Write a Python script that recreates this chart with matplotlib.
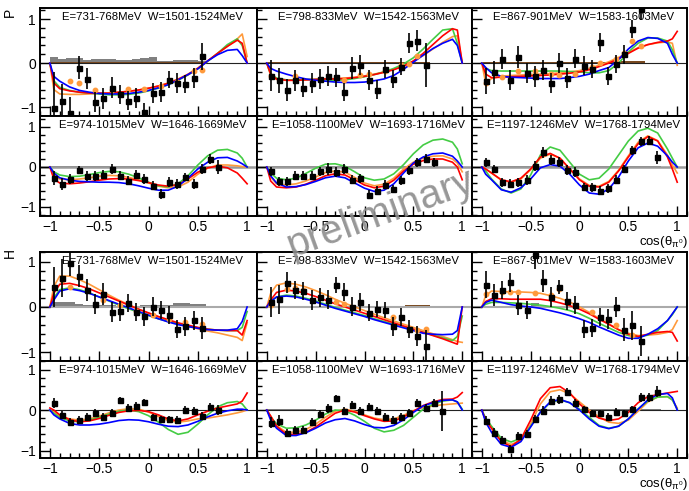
import numpy as np
import matplotlib
matplotlib.use("Agg")
import matplotlib.pyplot as plt
from matplotlib.ticker import MultipleLocator, FuncFormatter

plt.rcParams['font.family'] = ['Liberation Sans', 'DejaVu Sans']

# ---------------------------------------------------------------- binning
# 24 bins in cos(theta) of width 1/12; data occupy the first N bins
BIN_CENTERS = -1 + (np.arange(24) + 0.5) / 12.0
BIN_WIDTH = 1.0 / 12.0

# abscissae at which the model curves are tabulated
CURVE_COS = [-1, -0.96, -0.9, -0.8, -0.7, -0.6, -0.5, -0.4, -0.3, -0.2, -0.1, 0,
             0.1, 0.2, 0.3, 0.4, 0.5, 0.6, 0.7, 0.8, 0.9, 0.95, 1]

# ---------------------------------------------------------------- P, bin 1
P1_label = "E=731-768MeV  W=1501-1524MeV"
P1_y = [-1.01, -0.86, -1.13, -0.11, -0.35, -0.88, -0.80, -0.56, -0.71, -0.85,
        -0.79, -1.11, -0.68, -0.66, -0.38, -0.45, -0.47, -0.34, 0.15]
P1_err = [0.80, 0.38, 0.35, 0.26, 0.24, 0.23, 0.24, 0.24, 0.22, 0.21,
          0.22, 0.20, 0.22, 0.22, 0.19, 0.22, 0.20, 0.22, 0.30]
P1_blue = [0, -0.30, -0.41, -0.54, -0.62, -0.66, -0.69, -0.70, -0.70, -0.69, -0.66, -0.62,
           -0.56, -0.49, -0.38, -0.26, -0.13, 0.05, 0.19, 0.29, 0.31, 0.17, 0]
P1_red = [0, -0.45, -0.58, -0.63, -0.66, -0.68, -0.68, -0.68, -0.66, -0.64, -0.61, -0.57,
          -0.52, -0.46, -0.37, -0.26, -0.12, 0.05, 0.22, 0.38, 0.52, 0.45, 0]
P1_green = [0, -0.40, -0.55, -0.62, -0.66, -0.68, -0.70, -0.72, -0.72, -0.71, -0.68, -0.63,
            -0.57, -0.49, -0.39, -0.27, -0.13, 0.04, 0.22, 0.42, 0.55, 0.40, 0]
P1_orange = [0, -0.60, -0.70, -0.71, -0.71, -0.70, -0.69, -0.68, -0.66, -0.64, -0.61, -0.57,
             -0.52, -0.45, -0.36, -0.25, -0.11, 0.05, 0.22, 0.38, 0.55, 0.66, 0.15]
P1_ref_bins = [2, 3, 5, 7, 9, 11, 13, 15, 17, 18]
P1_ref_y = [-0.40, -0.45, -0.62, -0.60, -0.59, -0.58, -0.51, -0.42, -0.17, -0.15]
P1_sys = [0.13, 0.10, 0.12, 0.12, 0.07, 0.10, 0.09, 0.09, 0.08, 0.08,
          0.10, 0.11, 0.14, 0.05, 0.04, 0.07, 0.07, 0.07, 0.05]
P1_sys2 = [0.02] * 19

# ---------------------------------------------------------------- P, bin 2
P2_label = "E=798-833MeV  W=1542-1563MeV"
P2_y = [-0.29, -0.39, -0.60, -0.39, -0.56, -0.45, -0.36, -0.29, -0.32, -0.66,
        -0.11, -0.04, -0.39, -0.60, -0.13, -0.36, -0.08, 0.45, 0.51, -0.04]
P2_err = [0.35, 0.28, 0.25, 0.24, 0.22, 0.22, 0.23, 0.22, 0.22, 0.21,
          0.25, 0.23, 0.23, 0.22, 0.21, 0.21, 0.19, 0.23, 0.24, 0.50]
P2_blue = [0, -0.12, -0.18, -0.25, -0.31, -0.36, -0.39, -0.41, -0.43, -0.44, -0.44, -0.43,
           -0.40, -0.36, -0.28, -0.14, 0.02, 0.18, 0.33, 0.45, 0.54, 0.40, 0]
P2_red = [0, -0.25, -0.36, -0.39, -0.39, -0.38, -0.37, -0.36, -0.36, -0.35, -0.33, -0.30,
          -0.26, -0.21, -0.15, -0.07, 0.05, 0.22, 0.42, 0.62, 0.78, 0.75, 0]
P2_green = [0, -0.25, -0.34, -0.38, -0.38, -0.37, -0.37, -0.38, -0.39, -0.38, -0.35, -0.31,
            -0.26, -0.20, -0.12, -0.02, 0.12, 0.32, 0.54, 0.75, 0.78, 0.45, 0]
P2_orange = [0, -0.28, -0.37, -0.39, -0.39, -0.38, -0.37, -0.36, -0.35, -0.34, -0.32, -0.29,
             -0.25, -0.20, -0.14, -0.07, 0.04, 0.17, 0.32, 0.47, 0.60, 0.62, 0.02]
P2_ref_bins = [0, 3, 9, 11, 12, 14, 16, 17, 18]
P2_ref_y = [-0.30, -0.29, -0.38, -0.26, -0.24, -0.19, -0.04, -0.02, 0.17]
P2_sys = [0.02] * 20
P2_sys2 = [0.02] * 16 + [0.03] * 4

# ---------------------------------------------------------------- P, bin 3
P3_label = "E=867-901MeV  W=1583-1603MeV"
P3_y = [-0.41, -0.21, 0.09, -0.38, 0.14, -0.23, -0.30, -0.15, -0.45, 0.00,
        -0.33, 0.10, -0.06, -0.13, 0.47, -0.29, -0.02, 0.20, 0.77, 1.22]
P3_err = [0.30, 0.26, 0.23, 0.23, 0.24, 0.23, 0.24, 0.23, 0.23, 0.23,
          0.23, 0.21, 0.21, 0.21, 0.21, 0.21, 0.20, 0.21, 0.21, 0.24]
P3_blue = [0, -0.10, -0.22, -0.30, -0.32, -0.33, -0.34, -0.35, -0.35, -0.35, -0.33, -0.30,
           -0.25, -0.17, -0.10, 0.08, 0.32, 0.50, 0.58, 0.56, 0.45, 0.20, 0]
P3_red = [0, -0.25, -0.33, -0.32, -0.31, -0.30, -0.29, -0.28, -0.27, -0.25, -0.23, -0.20,
          -0.15, -0.08, 0.00, 0.10, 0.22, 0.34, 0.42, 0.47, 0.50, 0.55, 0.72]
P3_green = [0, -0.12, -0.17, -0.18, -0.18, -0.18, -0.18, -0.18, -0.18, -0.18, -0.19, -0.20,
            -0.22, -0.22, -0.17, 0.00, 0.25, 0.45, 0.57, 0.57, 0.50, 0.30, 0]
P3_orange = [0, -0.45, -0.35, -0.30, -0.28, -0.27, -0.26, -0.25, -0.24, -0.22, -0.20, -0.17,
             -0.12, -0.05, 0.03, 0.13, 0.24, 0.35, 0.42, 0.46, 0.48, 0.45, -0.05]
P3_ref_bins = [0, 2, 4, 6, 8, 9, 11, 13, 14, 16, 17, 18, 19]
P3_ref_y = [-0.45, -0.32, -0.19, -0.18, -0.24, -0.26, -0.24, -0.08, 0.0, 0.09, 0.22, 0.51, 0.38]
P3_sys = [0.02] * 20
P3_sys2 = [0.02] * 17 + [0.05, 0.05, 0.05]

# ---------------------------------------------------------------- P, bin 4
P4_label = "E=974-1015MeV  W=1646-1669MeV"
P4_y = [-0.28, -0.42, -0.30, -0.08, -0.23, -0.22, -0.19, -0.05, -0.22, -0.34,
        -0.19, -0.30, -0.47, -0.68, -0.38, -0.42, -0.25, -0.42, -0.05, 0.20, 0.00]
P4_err = [0.18, 0.15, 0.12, 0.10, 0.12, 0.12, 0.12, 0.12, 0.11, 0.12,
          0.12, 0.12, 0.11, 0.12, 0.12, 0.12, 0.11, 0.12, 0.12, 0.12, 0.18]
P4_blue = [0, -0.15, -0.27, -0.33, -0.36, -0.37, -0.38, -0.38, -0.39, -0.42, -0.47, -0.53,
           -0.58, -0.58, -0.48, -0.28, -0.05, 0.12, 0.23, 0.24, 0.15, 0.08, 0]
P4_red = [0, -0.30, -0.40, -0.42, -0.40, -0.37, -0.33, -0.30, -0.29, -0.30, -0.34, -0.39,
          -0.45, -0.48, -0.44, -0.30, -0.13, -0.02, 0.02, -0.02, -0.15, -0.28, -0.42]
P4_green = [0, -0.12, -0.20, -0.24, -0.23, -0.19, -0.14, -0.11, -0.12, -0.18, -0.27, -0.38,
            -0.47, -0.50, -0.42, -0.22, 0.05, 0.28, 0.42, 0.44, 0.35, 0.22, 0]
P4_orange = [0, -0.20, -0.30, -0.32, -0.30, -0.27, -0.23, -0.21, -0.22, -0.26, -0.32, -0.40,
             -0.48, -0.52, -0.50, -0.38, -0.18, -0.03, 0.05, 0.05, 0.03, 0.01, 0]
P4_sys = [0.03] * 21
P4_sys2 = [0.0] * 21

# ---------------------------------------------------------------- P, bin 5
P5_label = "E=1058-1100MeV  W=1693-1716MeV"
P5_y = [-0.11, -0.36, -0.36, -0.22, -0.22, -0.22, -0.11, -0.05, -0.13, -0.05,
        -0.32, -0.28, -0.69, -0.59, -0.44, -0.55, -0.33, -0.08, 0.12, 0.21, 0.12]
P5_err = [0.12, 0.12, 0.12, 0.11, 0.11, 0.11, 0.11, 0.14, 0.12, 0.12,
          0.11, 0.11, 0.12, 0.11, 0.11, 0.11, 0.11, 0.11, 0.11, 0.11, 0.11]
P5_blue = [0, -0.22, -0.40, -0.50, -0.49, -0.44, -0.36, -0.27, -0.23, -0.27, -0.40, -0.53,
           -0.61, -0.58, -0.42, -0.15, 0.10, 0.25, 0.33, 0.35, 0.27, 0.15, 0]
P5_red = [0, -0.35, -0.50, -0.52, -0.50, -0.43, -0.33, -0.22, -0.17, -0.20, -0.32, -0.45,
          -0.52, -0.48, -0.33, -0.10, 0.07, 0.16, 0.20, 0.20, 0.12, 0.00, -0.32]
P5_green = [0, -0.15, -0.28, -0.32, -0.28, -0.16, -0.03, 0.07, 0.08, 0.02, -0.12, -0.27,
            -0.33, -0.30, -0.17, 0.06, 0.33, 0.55, 0.67, 0.70, 0.62, 0.45, 0.08]
P5_orange = [0, -0.25, -0.42, -0.45, -0.42, -0.35, -0.25, -0.14, -0.10, -0.13, -0.26, -0.40,
             -0.47, -0.43, -0.28, -0.05, 0.12, 0.22, 0.27, 0.28, 0.20, 0.10, -0.12]
P5_sys = [0.02] * 21
P5_sys2 = [0.0] * 21

# ---------------------------------------------------------------- P, bin 6
P6_label = "E=1197-1246MeV  W=1768-1794MeV"
P6_y = [0.12, -0.05, -0.38, -0.42, -0.38, -0.33, 0.03, 0.37, 0.18, 0.12, -0.08,
        -0.13, -0.50, -0.51, -0.59, -0.53, -0.32, -0.05, 0.42, 0.64, 0.66, 0.24]
P6_err = [0.11, 0.11, 0.11, 0.11, 0.11, 0.13, 0.12, 0.14, 0.12, 0.12, 0.12,
          0.12, 0.11, 0.11, 0.11, 0.11, 0.11, 0.11, 0.11, 0.11, 0.11, 0.16]
P6_blue = [0, -0.18, -0.32, -0.57, -0.63, -0.52, -0.30, -0.02, 0.06, 0.02, -0.18, -0.45,
           -0.65, -0.68, -0.55, -0.25, 0.15, 0.48, 0.60, 0.52, 0.28, 0.12, 0]
P6_red = [0, -0.05, -0.15, -0.32, -0.37, -0.28, -0.05, 0.25, 0.34, 0.22, -0.05, -0.32,
          -0.48, -0.50, -0.38, -0.10, 0.25, 0.58, 0.76, 0.65, 0.25, -0.05, -0.38]
P6_green = [0, -0.10, -0.30, -0.55, -0.65, -0.55, -0.20, 0.30, 0.50, 0.42, 0.12, -0.18,
            -0.32, -0.28, -0.05, 0.30, 0.65, 0.90, 0.97, 0.85, 0.45, 0.22, 0]
P6_orange = [0, -0.05, -0.15, -0.33, -0.38, -0.30, -0.07, 0.22, 0.32, 0.22, -0.04, -0.30,
             -0.46, -0.48, -0.36, -0.08, 0.28, 0.62, 0.78, 0.66, 0.30, 0.05, -0.15]
P6_sys = [0.03] * 22
P6_sys2 = [0.0] * 22

# ---------------------------------------------------------------- H, bin 1
H1_label = P1_label
H1_y = [0.44, 0.64, 0.96, 0.68, 0.38, 0.07, 0.29, -0.11, -0.09, 0.09,
        -0.11, -0.21, 0.01, -0.06, -0.17, -0.49, -0.43, -0.29, -0.46]
H1_err = [0.44, 0.42, 0.28, 0.24, 0.24, 0.22, 0.24, 0.22, 0.22, 0.20,
          0.20, 0.21, 0.20, 0.20, 0.20, 0.20, 0.21, 0.21, 0.24]
H1_blue = [0, 0.15, 0.35, 0.40, 0.36, 0.30, 0.22, 0.14, 0.06, -0.02, -0.10, -0.18,
           -0.26, -0.33, -0.39, -0.43, -0.47, -0.50, -0.51, -0.51, -0.48, -0.32, 0.0]
H1_red = [0, 0.30, 0.50, 0.52, 0.47, 0.40, 0.31, 0.22, 0.13, 0.04, -0.05, -0.13,
          -0.21, -0.28, -0.35, -0.40, -0.45, -0.49, -0.51, -0.52, -0.52, -0.62, -0.30]
H1_green = [0, 0.20, 0.38, 0.42, 0.38, 0.31, 0.22, 0.13, 0.04, -0.04, -0.12, -0.19,
            -0.26, -0.32, -0.37, -0.42, -0.46, -0.49, -0.51, -0.52, -0.52, -0.45, -0.10]
H1_orange = [0, 0.45, 0.68, 0.68, 0.60, 0.50, 0.38, 0.26, 0.15, 0.05, -0.05, -0.14,
             -0.22, -0.30, -0.37, -0.43, -0.48, -0.53, -0.57, -0.62, -0.67, -0.74, -0.35]
H1_ref_bins = [1, 2, 6, 8, 10, 12, 14, 16, 18]
H1_ref_y = [0.60, 0.44, 0.15, 0.05, -0.08, -0.18, -0.27, -0.33, -0.37]
H1_sys = [0.10, 0.10, 0.11, 0.06, 0.05, 0.05, 0.05, 0.05, 0.03, 0.02,
          0.03, 0.05, 0.04, 0.05, 0.05, 0.08, 0.08, 0.06, 0.06]
H1_sys2 = [0.03] * 19

# ---------------------------------------------------------------- H, bin 2
H2_label = P2_label
H2_y = [0.11, 0.17, 0.53, 0.37, 0.35, 0.15, 0.21, 0.16, 0.48, 0.33,
        0.01, 0.11, -0.13, -0.05, -0.07, -0.43, -0.22, -0.48, -0.65, -0.85]
H2_err = [0.33, 0.32, 0.23, 0.20, 0.20, 0.22, 0.21, 0.21, 0.18, 0.19,
          0.20, 0.19, 0.19, 0.18, 0.18, 0.20, 0.20, 0.20, 0.22, 0.35]
H2_blue = [0, 0.12, 0.22, 0.24, 0.22, 0.17, 0.11, 0.04, -0.03, -0.09, -0.15, -0.21,
           -0.28, -0.34, -0.40, -0.46, -0.52, -0.58, -0.60, -0.61, -0.60, -0.52, 0.0]
H2_red = [0, 0.15, 0.32, 0.37, 0.35, 0.30, 0.23, 0.15, 0.07, 0.0, -0.07, -0.14,
          -0.21, -0.28, -0.35, -0.42, -0.49, -0.56, -0.63, -0.70, -0.78, -0.82, 0.0]
H2_green = [0, 0.12, 0.22, 0.26, 0.24, 0.19, 0.13, 0.06, -0.01, -0.07, -0.13, -0.19,
            -0.26, -0.32, -0.38, -0.44, -0.50, -0.56, -0.62, -0.68, -0.74, -0.65, -0.20]
H2_orange = [0, 0.30, 0.48, 0.53, 0.50, 0.44, 0.36, 0.27, 0.17, 0.08, 0.0, -0.08,
             -0.16, -0.24, -0.31, -0.38, -0.45, -0.52, -0.59, -0.65, -0.72, -0.76, -0.78]
H2_ref_bins = [0, 2, 3, 4, 8, 9, 15, 18, 19]
H2_ref_y = [0.05, 0.40, 0.42, 0.38, 0.12, 0.07, -0.23, -0.50, -0.48]
H2_sys = [0.0] * 20
H2_sys2 = [0.02] * 17 + [0.04, 0.04, 0.04]

# ---------------------------------------------------------------- H, bin 3
H3_label = P3_label
H3_y = [0.49, 0.27, 0.38, 0.54, 0.04, -0.06, 1.14, 0.57, 0.22, 0.44,
        0.13, 0.04, -0.48, -0.46, -0.22, -0.26, -0.01, -0.50, -0.40, -0.76]
H3_err = [0.30, 0.24, 0.20, 0.20, 0.22, 0.20, 0.30, 0.24, 0.22, 0.15,
          0.20, 0.20, 0.20, 0.20, 0.20, 0.22, 0.22, 0.25, 0.32, 0.33]
H3_blue = [0, 0.10, 0.15, 0.10, 0.05, 0.02, 0.0, -0.03, -0.08, -0.13, -0.19, -0.26,
           -0.34, -0.44, -0.53, -0.62, -0.69, -0.69, -0.60, -0.48, -0.30, -0.15, 0]
H3_red = [0, 0.12, 0.18, 0.18, 0.17, 0.17, 0.17, 0.17, 0.14, 0.09, 0.03, -0.05,
          -0.15, -0.27, -0.38, -0.50, -0.60, -0.65, -0.60, -0.56, -0.54, -0.56, -0.75]
H3_green = [0, 0.06, 0.10, 0.10, 0.09, 0.08, 0.06, 0.04, 0.01, -0.03, -0.08, -0.15,
            -0.25, -0.36, -0.46, -0.56, -0.63, -0.66, -0.62, -0.52, -0.30, -0.17, 0]
H3_orange = [0, 0.25, 0.35, 0.34, 0.33, 0.33, 0.32, 0.30, 0.25, 0.19, 0.11, 0.0,
             -0.12, -0.25, -0.38, -0.50, -0.58, -0.63, -0.62, -0.60, -0.56, -0.50, -0.30]
H3_ref_bins = [0, 2, 3, 4, 6, 8, 9, 11, 13, 15, 16, 17, 18]
H3_ref_y = [0.29, 0.33, 0.32, 0.33, 0.31, 0.27, 0.40, 0.02, -0.12, -0.28, -0.40, -0.55, -0.62]
H3_sys = [0.0] * 6 + [0.08] + [0.0] * 13
H3_sys2 = [0.03] * 20

# ---------------------------------------------------------------- H, bin 4
H4_label = P4_label
H4_y = [0.18, -0.12, -0.29, -0.25, -0.18, -0.07, -0.18, -0.07, 0.25, 0.06, 0.10,
        0.19, -0.18, -0.23, -0.23, -0.25, 0.00, -0.02, -0.15, 0.08, 0.00]
H4_err = [0.12, 0.10, 0.10, 0.10, 0.10, 0.10, 0.10, 0.10, 0.08, 0.10, 0.10,
          0.09, 0.09, 0.09, 0.09, 0.09, 0.11, 0.10, 0.09, 0.10, 0.12]
H4_blue = [0, -0.12, -0.22, -0.33, -0.37, -0.37, -0.35, -0.31, -0.26, -0.24, -0.25, -0.29,
           -0.35, -0.40, -0.41, -0.37, -0.28, -0.17, -0.08, -0.02, 0.02, 0.02, 0]
H4_red = [0.05, 0.0, -0.12, -0.24, -0.29, -0.27, -0.21, -0.13, -0.06, -0.02, -0.01, -0.04,
          -0.12, -0.22, -0.27, -0.22, -0.12, -0.03, 0.05, 0.10, 0.15, 0.22, 0.42]
H4_green = [0, -0.08, -0.18, -0.27, -0.29, -0.25, -0.18, -0.10, -0.03, 0.0, -0.04, -0.14,
            -0.30, -0.48, -0.60, -0.55, -0.35, -0.12, 0.08, 0.18, 0.21, 0.15, 0]
H4_orange = [0, -0.05, -0.14, -0.22, -0.25, -0.22, -0.15, -0.07, 0.0, 0.03, 0.02, -0.05,
             -0.16, -0.26, -0.30, -0.27, -0.22, -0.20, -0.16, -0.12, -0.07, -0.04, 0]
H4_sys = [0.0] * 21
H4_sys2 = [0.0] * 21

# ---------------------------------------------------------------- H, bin 5
H5_label = P5_label
H5_y = [-0.31, -0.26, -0.56, -0.50, -0.50, -0.29, -0.10, 0.04, 0.29, -0.02, 0.12,
        -0.02, 0.07, -0.02, -0.17, -0.25, -0.17, -0.07, 0.17, 0.06, 0.17, -0.02]
H5_err = [0.14, 0.14, 0.10, 0.10, 0.10, 0.10, 0.10, 0.11, 0.09, 0.10, 0.10,
          0.10, 0.10, 0.10, 0.10, 0.10, 0.10, 0.10, 0.10, 0.10, 0.10, 0.50]
H5_blue = [0, -0.25, -0.45, -0.63, -0.63, -0.56, -0.45, -0.32, -0.24, -0.21, -0.27, -0.36,
           -0.43, -0.44, -0.38, -0.24, -0.06, 0.10, 0.18, 0.24, 0.25, 0.20, 0]
H5_red = [0, -0.15, -0.40, -0.60, -0.60, -0.55, -0.42, -0.25, -0.08, 0.0, -0.05, -0.14,
          -0.22, -0.28, -0.27, -0.17, -0.03, 0.11, 0.20, 0.26, 0.27, 0.32, 0.43]
H5_green = [0, -0.18, -0.34, -0.45, -0.44, -0.37, -0.25, -0.10, 0.0, -0.02, -0.13, -0.28,
            -0.45, -0.54, -0.50, -0.38, -0.18, 0.02, 0.14, 0.22, 0.25, 0.20, 0.02]
H5_orange = [0, -0.15, -0.38, -0.55, -0.55, -0.48, -0.35, -0.18, -0.03, 0.02, -0.03, -0.12,
             -0.20, -0.24, -0.22, -0.13, -0.02, 0.06, 0.10, 0.13, 0.15, 0.16, 0.17]
H5_sys = [0.02] * 6 + [0.0] * 16
H5_sys2 = [0.0] * 22

# ---------------------------------------------------------------- H, bin 6
H6_label = P6_label
H6_y = [-0.27, -0.56, -0.74, -0.97, -0.64, -0.60, -0.23, -0.02, 0.23, 0.27, 0.44,
        0.18, 0.02, -0.08, -0.08, -0.17, -0.04, -0.08, 0.02, 0.31, 0.31, 0.45]
H6_err = [0.11, 0.11, 0.10, 0.10, 0.10, 0.10, 0.10, 0.11, 0.11, 0.11, 0.10,
          0.10, 0.09, 0.09, 0.09, 0.09, 0.09, 0.09, 0.09, 0.10, 0.10, 0.14]
H6_blue = [0, -0.30, -0.55, -0.85, -0.92, -0.78, -0.42, -0.05, 0.20, 0.26, 0.18, 0.0,
           -0.22, -0.40, -0.46, -0.40, -0.22, 0.02, 0.25, 0.38, 0.41, 0.30, 0.0]
H6_red = [0, -0.25, -0.45, -0.78, -0.90, -0.72, -0.25, 0.28, 0.55, 0.58, 0.42, 0.15,
          -0.06, -0.20, -0.26, -0.22, -0.06, 0.18, 0.33, 0.38, 0.42, 0.44, 0.46]
H6_green = [0, -0.20, -0.40, -0.70, -0.79, -0.70, -0.40, -0.05, 0.18, 0.25, 0.18, 0.02,
            -0.18, -0.38, -0.45, -0.40, -0.22, 0.03, 0.22, 0.32, 0.33, 0.25, 0.02]
H6_orange = [0, -0.25, -0.45, -0.75, -0.85, -0.75, -0.35, 0.15, 0.45, 0.50, 0.40, 0.20,
             0.0, -0.17, -0.30, -0.33, -0.25, -0.03, 0.20, 0.32, 0.33, 0.25, 0.05]
H6_sys = [0.03] * 22
H6_sys2 = [0.0] * 22

# ---------------------------------------------------------------- styling
C_RED = '#ff0000'
C_BLUE = '#0000ff'
C_GREEN = '#44cc44'
C_ORANGE = '#ff9a3c'
C_SYS = '#808080'
C_SYS2 = '#7a4a20'

W, H = 689, 491
COLS = [(40, 257), (257, 472), (472, 687)]
ROWS = [(8, 116), (116, 216), (252, 361), (361, 458)]
YLIMS = [(-1.20, 1.25), (-1.225, 1.275), (-1.19, 1.21), (-1.185, 1.21)]

panels = [
    [dict(label=P1_label, y=P1_y, e=P1_err, b=P1_blue, r=P1_red, g=P1_green, o=P1_orange,
          rb=P1_ref_bins, ry=P1_ref_y, s=P1_sys, s2=P1_sys2),
     dict(label=P2_label, y=P2_y, e=P2_err, b=P2_blue, r=P2_red, g=P2_green, o=P2_orange,
          rb=P2_ref_bins, ry=P2_ref_y, s=P2_sys, s2=P2_sys2),
     dict(label=P3_label, y=P3_y, e=P3_err, b=P3_blue, r=P3_red, g=P3_green, o=P3_orange,
          rb=P3_ref_bins, ry=P3_ref_y, s=P3_sys, s2=P3_sys2)],
    [dict(label=P4_label, y=P4_y, e=P4_err, b=P4_blue, r=P4_red, g=P4_green, o=P4_orange,
          s=P4_sys, s2=P4_sys2),
     dict(label=P5_label, y=P5_y, e=P5_err, b=P5_blue, r=P5_red, g=P5_green, o=P5_orange,
          s=P5_sys, s2=P5_sys2),
     dict(label=P6_label, y=P6_y, e=P6_err, b=P6_blue, r=P6_red, g=P6_green, o=P6_orange,
          s=P6_sys, s2=P6_sys2)],
    [dict(label=H1_label, y=H1_y, e=H1_err, b=H1_blue, r=H1_red, g=H1_green, o=H1_orange,
          rb=H1_ref_bins, ry=H1_ref_y, s=H1_sys, s2=H1_sys2),
     dict(label=H2_label, y=H2_y, e=H2_err, b=H2_blue, r=H2_red, g=H2_green, o=H2_orange,
          rb=H2_ref_bins, ry=H2_ref_y, s=H2_sys, s2=H2_sys2),
     dict(label=H3_label, y=H3_y, e=H3_err, b=H3_blue, r=H3_red, g=H3_green, o=H3_orange,
          rb=H3_ref_bins, ry=H3_ref_y, s=H3_sys, s2=H3_sys2)],
    [dict(label=H4_label, y=H4_y, e=H4_err, b=H4_blue, r=H4_red, g=H4_green, o=H4_orange,
          s=H4_sys, s2=H4_sys2),
     dict(label=H5_label, y=H5_y, e=H5_err, b=H5_blue, r=H5_red, g=H5_green, o=H5_orange,
          s=H5_sys, s2=H5_sys2),
     dict(label=H6_label, y=H6_y, e=H6_err, b=H6_blue, r=H6_red, g=H6_green, o=H6_orange,
          s=H6_sys, s2=H6_sys2)],
]

zero_line = {0: ('#222222', 0.8), 1: ('#9a9a9a', 1.8), 2: ('#aaaaaa', 1.5), 3: ('#222222', 0.8)}


def fmt(v, pos):
    return f'{v:g}'.replace('-', '\u2212')


fig = plt.figure(figsize=(W / 100, H / 100), dpi=100)

for ri, row in enumerate(panels):
    top, bot = ROWS[ri]
    for ci, p in enumerate(row):
        l, r = COLS[ci]
        ax = fig.add_axes([l / W, 1 - bot / H, (r - l) / W, (bot - top) / H])
        ax.set_xlim(-1.1, 1.1)
        ax.set_ylim(*YLIMS[ri])

        n = len(p['y'])
        xc = BIN_CENTERS[:n]
        ax.bar(xc, p['s'], width=BIN_WIDTH, bottom=0, color=C_SYS, lw=0, zorder=1)
        ax.bar(xc, p['s2'], width=BIN_WIDTH, bottom=0, color=C_SYS2, lw=0, zorder=1.1)
        zc, zw = zero_line[ri]
        ax.axhline(0, color=zc, lw=zw, zorder=1.5)

        for key, col in (('o', C_ORANGE), ('g', C_GREEN), ('r', C_RED), ('b', C_BLUE)):
            ax.plot(CURVE_COS, p[key], color=col, lw=1.2, zorder=2)

        if 'rb' in p:
            ax.errorbar(BIN_CENTERS[p['rb']], p['ry'], yerr=0.04, fmt='o', ms=3.2,
                        color=C_ORANGE, mec=C_ORANGE, elinewidth=1.0, capsize=0, zorder=3)

        ax.errorbar(xc, p['y'], yerr=p['e'], fmt='s', ms=3.6, color='black',
                    elinewidth=1.2, capsize=0, zorder=4)

        ax.annotate(p['label'], xy=(0.52, 1.0), xycoords='axes fraction',
                    xytext=(0, -9), textcoords='offset pixels', ha='center', va='center',
                    fontsize=8.2, zorder=5)

        ax.xaxis.set_major_locator(MultipleLocator(0.5))
        ax.xaxis.set_minor_locator(MultipleLocator(0.1))
        ax.yaxis.set_major_locator(MultipleLocator(1))
        ax.yaxis.set_minor_locator(MultipleLocator(0.2))
        ax.xaxis.set_major_formatter(FuncFormatter(fmt))
        ax.yaxis.set_major_formatter(FuncFormatter(fmt))
        ax.tick_params(which='both', direction='in', top=False, right=False, width=1.0)
        ax.tick_params(which='major', length=7)
        ax.tick_params(which='minor', length=3.5)
        ax.tick_params(axis='x', labelbottom=(ri in (1, 3)), labelsize=10, pad=3)
        ax.tick_params(axis='y', labelleft=(ci == 0), labelsize=10, pad=3)
        for sp in ax.spines.values():
            sp.set_linewidth(1.4)

COS_LABEL = r'cos($\mathregular{\theta_{\pi^{0}}}$)'
fig.text(688 / W, 1 - 245 / H, COS_LABEL, ha='right', va='baseline', fontsize=9.5)
fig.text(688 / W, 1 - 487 / H, COS_LABEL, ha='right', va='baseline', fontsize=9.5)
fig.text(10 / W, 1 - 12 / H, 'P', rotation=90, ha='center', va='center', fontsize=10)
fig.text(10 / W, 1 - 253 / H, 'H', rotation=90, ha='center', va='center', fontsize=10)

fig.text(380 / W, 1 - 213 / H, 'preliminary', rotation=20, ha='center', va='center',
         fontsize=29, color='#8c8c8c', alpha=0.9, zorder=10)

fig.savefig('out.png', dpi=100)
